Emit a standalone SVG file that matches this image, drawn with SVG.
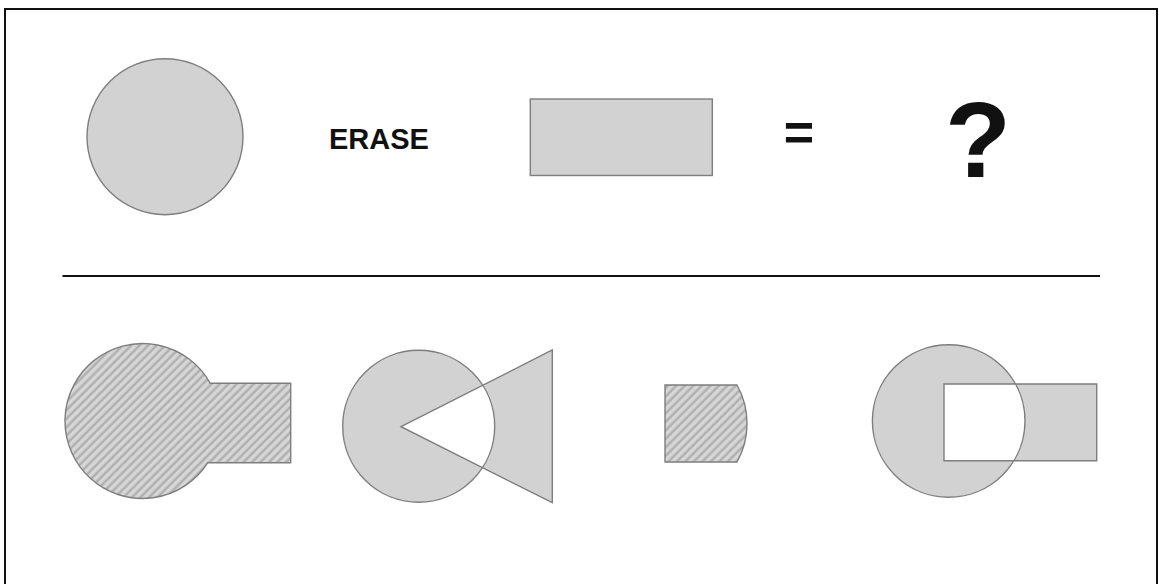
<svg xmlns="http://www.w3.org/2000/svg" width="1159" height="584" viewBox="0 0 1159 584">
<style>
.solid{fill:#d2d2d2;stroke:#7e7e7e;stroke-width:1.4}
.hatch{fill:url(#hatch);stroke:#7e7e7e;stroke-width:1.4}
.xor{fill:#d2d2d2;fill-rule:evenodd;stroke:#7e7e7e;stroke-width:1.4}
.lbl{font-family:"Liberation Sans",Arial,sans-serif;font-weight:bold;fill:#111}
</style>
<defs>
<pattern id="hatch" width="6" height="6" patternUnits="userSpaceOnUse" patternTransform="rotate(45)">
<rect width="6" height="6" fill="#cbcbcb"/>
<rect x="0" y="0" width="2" height="6" fill="#b0b0b0"/>
<rect x="3.2" y="0" width="1.4" height="6" fill="#dedede"/>
</pattern>
</defs>
<rect x="0" y="0" width="1159" height="584" fill="#fff"/>
<rect id="frame" x="5" y="9" width="1152" height="600" fill="none" stroke="#111" stroke-width="2"/>

<g id="top-circle"><circle class="solid" cx="165" cy="136.7" r="78"/></g>
<g id="erase"><text class="lbl" x="329" y="149" font-size="29">ERASE</text></g>
<g id="top-rect"><rect class="solid" x="530.3" y="99" width="182" height="76.5"/></g>
<g id="equals"><text class="lbl" x="799" y="150" font-size="52" text-anchor="middle">=</text></g>
<g id="question"><text class="lbl" x="978" y="177" font-size="108" text-anchor="middle">?</text></g>

<g id="divider"><line x1="62.5" y1="276" x2="1100" y2="276" stroke="#111" stroke-width="2"/></g>

<g id="option-a"><path class="hatch" d="M210.2 383.3 L290.7 383.3 L290.7 462.7 L207.8 462.7 A77.5 77.5 0 1 1 210.2 383.3 Z"/></g>
<g id="option-b"><path class="xor" d="M342.7 426.3 A76 76 0 1 1 494.7 426.3 A76 76 0 1 1 342.7 426.3 Z M401 426.7 L552.3 350 L552.3 502.7 Z"/></g>
<g id="option-c"><path class="hatch" d="M665 385 L737 385 A79 79 0 0 1 737 462 L665 462 Z"/></g>
<g id="option-d"><path class="xor" d="M872.4 421 A76.3 76.3 0 1 1 1025 421 A76.3 76.3 0 1 1 872.4 421 Z M944 384 L1096.7 384 L1096.7 460.7 L944 460.7 Z"/></g>
</svg>
